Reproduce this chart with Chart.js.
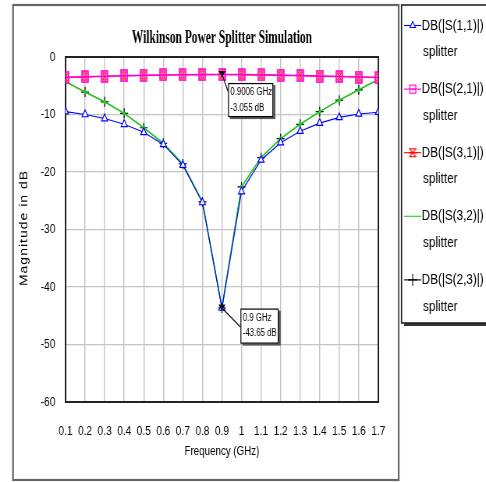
<!DOCTYPE html>
<html><head><meta charset="utf-8">
<script src="https://cdn.jsdelivr.net/npm/chart.js@4/dist/chart.umd.min.js"></script>
<style>html,body{margin:0;padding:0;background:#fff;overflow:hidden}canvas{display:block}</style>
</head><body>
<canvas id="c" width="623" height="482" style="width:486px;height:482px"></canvas>
<script>
const chartTitle = "Wilkinson Power Splitter Simulation";
const xAxisTitle = "Frequency (GHz)";
const yAxisTitle = "Magnitude in dB";
const frequencies = [0.1, 0.2, 0.3, 0.4, 0.5, 0.6, 0.7, 0.8, 0.9, 1.0, 1.1, 1.2, 1.3, 1.4, 1.5, 1.6, 1.7];
const xTickLabels = ["0.1","0.2","0.3","0.4","0.5","0.6","0.7","0.8","0.9","1","1.1","1.2","1.3","1.4","1.5","1.6","1.7"];
const yTickValues = [-60, -50, -40, -30, -20, -10, 0];
const yTickLabels = ["-60","-50","-40","-30","-20","-10","0"];
const seriesNames = ["DB(|S(1,1)|)", "DB(|S(2,1)|)", "DB(|S(3,1)|)", "DB(|S(3,2)|)", "DB(|S(2,3)|)"];
const seriesSub = "splitter";
const s11 = [-9.5, -10.0, -10.7, -11.7, -13.1, -15.2, -18.8, -25.3, -43.65, -23.4, -17.9, -14.9, -12.9, -11.5, -10.5, -9.9, -9.6];
const s21 = [-3.55, -3.45, -3.35, -3.27, -3.2, -3.13, -3.09, -3.06, -3.055, -3.07, -3.11, -3.17, -3.24, -3.32, -3.4, -3.48, -3.56];
const s31 = [-3.55, -3.45, -3.35, -3.27, -3.2, -3.13, -3.09, -3.06, -3.055, -3.07, -3.11, -3.17, -3.24, -3.32, -3.4, -3.48, -3.56];
const s32 = [-4.3, -6.1, -7.8, -9.8, -12.3, -15.0, -18.6, -25.2, -43.65, -22.6, -17.5, -14.2, -11.7, -9.5, -7.5, -5.7, -3.9];
const s23 = [-4.3, -6.1, -7.8, -9.8, -12.3, -15.0, -18.6, -25.2, -43.65, -22.6, -17.5, -14.2, -11.7, -9.5, -7.5, -5.7, -3.9];
const markerFreqs = [0.9006, 0.9];
const markerValues = [-3.055, -43.65];
const markerTexts = [["0.9006 GHz", "-3.055 dB"], ["0.9 GHz", "-43.65 dB"]];

// The canvas is drawn 623 px wide and shown 486 px wide (horizontal squeeze like the original image)
const SANS = '"Liberation Sans", Arial, sans-serif';

function pts(arr){ return frequencies.map((f,i)=>({x:f, y:arr[i]})); }

function makePink(){
  const c=document.createElement('canvas'); c.width=10; c.height=13;
  const g=c.getContext('2d'); g.strokeStyle='#ff00cc'; g.lineWidth=1.6;
  g.strokeRect(1,1,8,11); return c;
}
function makeRed(){
  const c=document.createElement('canvas'); c.width=10; c.height=13;
  const g=c.getContext('2d'); g.fillStyle='#ff9be8'; g.fillRect(1,1,8,11);
  g.strokeStyle='#ff0000'; g.lineWidth=1;
  g.beginPath(); g.moveTo(2.5,3); g.lineTo(7.5,3); g.lineTo(2.5,10); g.lineTo(7.5,10); g.closePath(); g.stroke();
  return c;
}
function legendPink(){ const c=document.createElement('canvas'); c.width=11;c.height=11; const g=c.getContext('2d'); g.strokeStyle='#ff00cc'; g.lineWidth=1.2; g.strokeRect(1.5,1.5,8,8); g.beginPath(); g.moveTo(1.5,5.5); g.lineTo(9.5,5.5); g.stroke(); return c; }
function legendRed(){ const c=document.createElement('canvas'); c.width=11;c.height=11; const g=c.getContext('2d'); g.strokeStyle='#ff0000'; g.lineWidth=1.1; g.beginPath(); g.moveTo(1.5,1.5);g.lineTo(9.5,1.5);g.lineTo(1.5,9.5);g.lineTo(9.5,9.5);g.closePath(); g.stroke(); g.beginPath(); g.moveTo(0,5.5); g.lineTo(11,5.5); g.stroke(); return c; }
const pinkMarker = makePink();
const redMarker = makeRed();

const framePlugin = {
  id:'frame',
  beforeDatasetsDraw(chart){
    const {ctx, chartArea:a} = chart;
    ctx.save();
    ctx.strokeStyle='#222'; ctx.lineWidth=2;
    ctx.strokeRect(a.left, a.top, a.right-a.left, a.bottom-a.top);
    ctx.restore();
  },
  afterDraw(chart){
    const {ctx, chartArea:a} = chart;
    const xs = chart.scales.x, ys = chart.scales.y;
    ctx.save();
    // outer frame
    ctx.strokeStyle='#666'; ctx.lineWidth=2.2;
    ctx.strokeRect(16.7, 5, 494.3, 475);
    // title
    ctx.fillStyle='#000';
    ctx.font='bold 19px "Liberation Serif","Times New Roman",serif';
    ctx.textBaseline='middle'; ctx.textAlign='center';
    const tw = ctx.measureText(chartTitle).width;
    const sc = 231 / tw;
    ctx.save(); ctx.translate((a.left+a.right)/2, 38); ctx.scale(sc,1);
    ctx.fillText(chartTitle, 0, 0); ctx.restore();
    // x title
    ctx.font='12.5px '+SANS;
    ctx.fillText(xAxisTitle, (a.left+a.right)/2, 452);
    // y title
    ctx.save(); ctx.translate(31, 228); ctx.rotate(-Math.PI/2);
    ctx.font='14px '+SANS; ctx.letterSpacing='1px';
    ctx.fillText(yAxisTitle, 0, 0); ctx.restore();
    ctx.letterSpacing='0px';
    // marker annotations
    const boxes=[{dx:7.7,dy:8.5,w:58,h:34,lx:7.7,ly:17},{dx:23.7,dy:0.6,w:49,h:35,lx:23.7,ly:19}];
    markerFreqs.forEach((f,i)=>{
      const px = xs.getPixelForValue(f), py = ys.getPixelForValue(markerValues[i]);
      const b = boxes[i];
      const bx = px+b.dx, by = py+b.dy;
      ctx.strokeStyle='#000'; ctx.lineWidth=1.1;
      ctx.beginPath(); ctx.moveTo(px,py); ctx.lineTo(px+b.lx, py+b.ly); ctx.stroke();
      ctx.fillStyle='#555'; ctx.fillRect(bx+2.6, by+2, b.w, b.h);
      ctx.fillStyle='#fff'; ctx.fillRect(bx, by, b.w, b.h);
      ctx.strokeStyle='#000'; ctx.lineWidth=1.2; ctx.strokeRect(bx+0.6, by+0.5, b.w-1.2, b.h-1);
      ctx.fillStyle='#000'; ctx.font='10px '+SANS; ctx.textAlign='left'; ctx.textBaseline='middle';
      ctx.fillText(markerTexts[i][0], bx+3, by+9.5);
      ctx.fillText(markerTexts[i][1], bx+3, by+25);
      ctx.fillStyle='#111';
      ctx.beginPath(); ctx.moveTo(px-4.5,py-3.5); ctx.lineTo(px+4.5,py-3.5); ctx.lineTo(px,py+3); ctx.closePath(); ctx.fill();
    });
    // legend box
    ctx.fillStyle='#333'; ctx.fillRect(518, 8, 120, 318);
    ctx.fillStyle='#fff'; ctx.fillRect(514.7, 5, 120, 318);
    ctx.strokeStyle='#222'; ctx.lineWidth=1.6; ctx.strokeRect(514.7, 5, 120, 318);
    const ds = chart.data.datasets;
    ds.forEach((d,k)=>{
      const yy = 25.5 + k*63.6;
      ctx.strokeStyle=d.borderColor; ctx.lineWidth=1.1;
      ctx.beginPath(); ctx.moveTo(518, yy); ctx.lineTo(540, yy); ctx.stroke();
      if (d.legendMarker) {
        Chart.helpers.drawPoint(ctx, {pointStyle:d.legendMarker, radius:d.legendRadius || 5, borderWidth:1.1, rotation:0}, 529, yy);
      }
      ctx.fillStyle='#000'; ctx.font='15px '+SANS; ctx.textAlign='left'; ctx.textBaseline='middle';
      ctx.fillText(d.label, 540.6, yy);
      ctx.fillText(seriesSub, 542.3, yy+26.5);
    });
    ctx.restore();
  }
};

const ctx = document.getElementById('c').getContext('2d');
const chart = new Chart(ctx, {
  type:'line',
  data:{ datasets:[
    {label:seriesNames[0], data:pts(s11), borderColor:'#0000ff', borderWidth:1.1, pointStyle:'triangle', pointRadius:4.5, pointBorderColor:'#0000ff', pointBackgroundColor:'#ffffff', pointBorderWidth:1.2, order:2, legendMarker:'triangle', legendRadius:4},
    {label:seriesNames[1], data:pts(s21), borderColor:'#ff00cc', borderWidth:1.6, pointStyle:pinkMarker, pointRadius:5, order:1, legendMarker:legendPink()},
    {label:seriesNames[2], data:pts(s31), borderColor:'#ff0000', borderWidth:1, pointStyle:redMarker, pointRadius:5, order:3, legendMarker:legendRed()},
    {label:seriesNames[3], data:pts(s32), borderColor:'#22cc22', borderWidth:1.6, pointStyle:'circle', pointRadius:1.4, pointBackgroundColor:'#22cc22', pointBorderColor:'#22cc22', order:4, legendMarker:null},
    {label:seriesNames[4], data:pts(s23), borderColor:'#000000', borderWidth:1, pointStyle:'cross', pointRadius:5, pointBorderColor:'#000', pointBorderWidth:1.2, order:5, legendMarker:'cross', legendRadius:6}
  ]},
  options:{
    responsive:false, animation:false, devicePixelRatio:1,
    layout:{padding:{left:0, top:57, right:138, bottom:40}},
    plugins:{legend:{display:false}, tooltip:{enabled:false}, title:{display:false}},
    elements:{line:{tension:0}},
    scales:{
      x:{type:'linear', min:0.1, max:1.7,
        afterBuildTicks:s=>{ s.ticks = frequencies.map(v=>({value:v})); },
        afterFit:s=>{ s.height = 40; },
        ticks:{callback:(v,i)=>xTickLabels[i], autoSkip:false, maxRotation:0, padding:22, color:'#000', font:{family:SANS, size:13}},
        grid:{color:'#c4c4c4', lineWidth:1.4, drawTicks:false}, border:{display:false}},
      y:{type:'linear', min:-60, max:0,
        afterBuildTicks:s=>{ s.ticks = yTickValues.map(v=>({value:v})); },
        afterFit:s=>{ s.width = 84; },
        ticks:{callback:(v,i)=>yTickLabels[i], padding:13, color:'#000', font:{family:SANS, size:13}},
        grid:{color:'#c4c4c4', lineWidth:1.2, drawTicks:false}, border:{display:false}}
    }
  },
  plugins:[framePlugin]
});
</script>
</body></html>
